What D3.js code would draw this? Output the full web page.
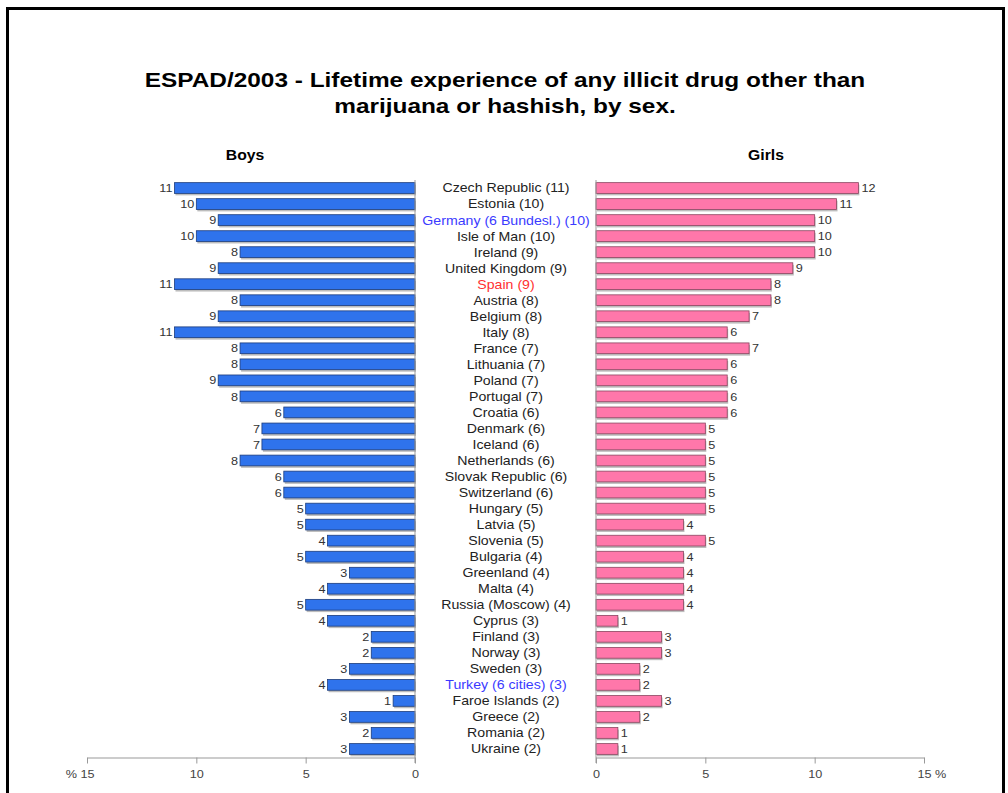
<!DOCTYPE html>
<html>
<head>
<meta charset="utf-8">
<script src="https://cdn.jsdelivr.net/npm/d3@7"></script>
<style>
  html, body { margin: 0; padding: 0; background: #fff; }
  svg { display: block; font-family: "Liberation Sans", Arial, sans-serif; }
</style>
</head>
<body>
<svg id="chart" width="1008" height="793"></svg>
<script>
const countries = ["Czech Republic (11)", "Estonia (10)", "Germany (6 Bundesl.) (10)", "Isle of Man (10)", "Ireland (9)", "United Kingdom (9)", "Spain (9)", "Austria (8)", "Belgium (8)", "Italy (8)", "France (7)", "Lithuania (7)", "Poland (7)", "Portugal (7)", "Croatia (6)", "Denmark (6)", "Iceland (6)", "Netherlands (6)", "Slovak Republic (6)", "Switzerland (6)", "Hungary (5)", "Latvia (5)", "Slovenia (5)", "Bulgaria (4)", "Greenland (4)", "Malta (4)", "Russia (Moscow) (4)", "Cyprus (3)", "Finland (3)", "Norway (3)", "Sweden (3)", "Turkey (6 cities) (3)", "Faroe Islands (2)", "Greece (2)", "Romania (2)", "Ukraine (2)"];
const boys  = [11, 10, 9, 10, 8, 9, 11, 8, 9, 11, 8, 8, 9, 8, 6, 7, 7, 8, 6, 6, 5, 5, 4, 5, 3, 4, 5, 4, 2, 2, 3, 4, 1, 3, 2, 3];
const girls = [12, 11, 10, 10, 10, 9, 8, 8, 7, 6, 7, 6, 6, 6, 6, 5, 5, 5, 5, 5, 5, 4, 5, 4, 4, 4, 4, 1, 3, 3, 2, 2, 3, 2, 1, 1];
const blueLabels = ["Germany (6 Bundesl.) (10)", "Turkey (6 cities) (3)"];
const redLabels = ["Spain (9)"];
const axisTicks = [0, 5, 10, 15];
const titleLines = ["ESPAD/2003 - Lifetime experience of any illicit drug other than", "marijuana or hashish, by sex."];

const svg = d3.select("#chart");
const stretch = (x, y, s) => `translate(${x},${y}) scale(${s},1)`;

// frame
svg.append("path").attr("d", "M7.5,793 V8.5 H1003.5 V793").attr("fill", "none").attr("stroke", "#000").attr("stroke-width", 3);

// title
svg.append("g").selectAll("text").data(titleLines).join("text")
  .attr("transform", (d, i) => stretch(505, 87 + i * 26, 1.22))
  .attr("text-anchor", "middle").attr("font-weight", "bold").attr("font-size", 20)
  .attr("fill", "#000").text(d => d);

svg.append("text").attr("transform", stretch(245, 160, 1.05)).attr("text-anchor", "middle")
  .attr("font-weight", "bold").attr("font-size", 15).text("Boys");
svg.append("text").attr("transform", stretch(766, 160, 1.05)).attr("text-anchor", "middle")
  .attr("font-weight", "bold").attr("font-size", 15).text("Girls");

const y = d3.scaleBand().domain(countries).range([180, 757]).paddingInner(0.33).paddingOuter(0.165);
const xL = d3.scaleLinear().domain([0, 15]).range([415, 87]);
const xR = d3.scaleLinear().domain([0, 15]).range([596, 924]);

const rows = countries.map((c, i) => ({c, b: boys[i], g: girls[i]}));
const cy = d => y(d.c) + y.bandwidth() / 2;

// shadows
const sh = svg.append("g").attr("fill", "#bdbdbd");
sh.selectAll("rect.l").data(rows).join("rect").attr("class", "l")
  .attr("x", d => xL(d.b) + 1).attr("y", d => y(d.c) + 2)
  .attr("width", d => xL(0) - xL(d.b)).attr("height", y.bandwidth());
sh.selectAll("rect.r").data(rows).join("rect").attr("class", "r")
  .attr("x", d => xR(0) + 1).attr("y", d => y(d.c) + 2)
  .attr("width", d => xR(d.g) - xR(0)).attr("height", y.bandwidth());

// bars
svg.append("g").selectAll("rect").data(rows).join("rect")
  .attr("x", d => xL(d.b)).attr("y", d => y(d.c))
  .attr("width", d => xL(0) - xL(d.b)).attr("height", y.bandwidth())
  .attr("fill", "#2f73ec").attr("stroke", "#1c3c7c").attr("stroke-width", 0.8);
svg.append("g").selectAll("rect").data(rows).join("rect")
  .attr("x", d => xR(0)).attr("y", d => y(d.c))
  .attr("width", d => xR(d.g) - xR(0)).attr("height", y.bandwidth())
  .attr("fill", "#ff77aa").attr("stroke", "#8a4660").attr("stroke-width", 0.8);

// value labels
svg.append("g").attr("font-size", 11.5).attr("fill", "#333").selectAll("text").data(rows).join("text")
  .attr("transform", d => stretch(xL(d.b) - 2, cy(d), 1.1))
  .attr("dy", "0.36em").attr("text-anchor", "end").text(d => d.b);
svg.append("g").attr("font-size", 11.5).attr("fill", "#333").selectAll("text").data(rows).join("text")
  .attr("transform", d => stretch(xR(d.g) + 3, cy(d), 1.1))
  .attr("dy", "0.36em").attr("text-anchor", "start").text(d => d.g);

// country labels
svg.append("g").attr("font-size", 12.3).selectAll("text").data(rows).join("text")
  .attr("transform", d => stretch(506, cy(d), 1.15)).attr("dy", "0.36em")
  .attr("text-anchor", "middle")
  .attr("fill", d => blueLabels.includes(d.c) ? "#3b3bff" : redLabels.includes(d.c) ? "#ff3030" : "#222")
  .text(d => d.c);

// baselines
svg.append("line").attr("x1", xL(0)).attr("x2", xL(0)).attr("y1", 180).attr("y2", 763).attr("stroke", "#999");
svg.append("line").attr("x1", xR(0)).attr("x2", xR(0)).attr("y1", 180).attr("y2", 763).attr("stroke", "#999");

// axes
const axL = d3.axisBottom(xL).tickValues(axisTicks).tickSize(6).tickSizeOuter(0).tickFormat(d => d === 15 ? "% 15" : d);
const axR = d3.axisBottom(xR).tickValues(axisTicks).tickSize(6).tickSizeOuter(0).tickFormat(d => d === 15 ? "15 %" : d);
const gL = svg.append("g").attr("transform", "translate(0,757.5)").call(axL);
const gR = svg.append("g").attr("transform", "translate(0,757.5)").call(axR);
[gL, gR].forEach((g, k) => {
  g.select(".domain").attr("stroke", "#999");
  g.selectAll(".tick line").attr("stroke", "#999");
  g.selectAll(".tick text").attr("fill", "#444").attr("font-size", 11.5)
    .attr("font-family", "Liberation Sans, Arial, sans-serif").attr("y", 0).attr("dy", 0)
    .attr("transform", d => {
      let anchorShift = 0;
      if (d === 15) anchorShift = k === 0 ? 7 : -7;
      return stretch(anchorShift, 20, 1.1);
    })
    .attr("text-anchor", d => d === 15 ? (k === 0 ? "end" : "start") : "middle");
});
</script>
</body>
</html>
